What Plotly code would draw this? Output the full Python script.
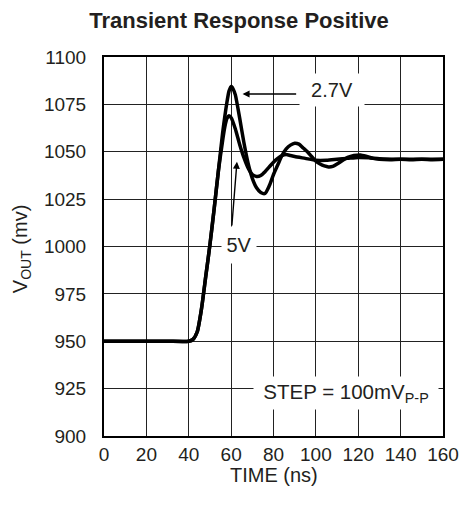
import plotly.graph_objects as go

# time axis (ns) and output voltage (mV)
t_27 = [0, 10, 20, 30, 40, 42, 44, 46, 48, 50, 52, 54, 56, 58, 59, 60, 61, 62, 64, 66,
        68, 70, 72, 74, 76, 78, 80, 82, 84, 86, 88, 90, 92, 94, 96, 98, 100, 102, 104,
        106, 108, 110, 112, 115, 118, 121, 124, 127, 130, 135, 140, 145, 150, 155, 160]
v_27 = [950, 950, 950, 950, 950, 951, 955, 967, 984, 1001, 1020, 1040, 1060, 1076, 1082,
        1084.5, 1083, 1080, 1068, 1055, 1044, 1036, 1031, 1028.5, 1028, 1032, 1038, 1043,
        1048, 1051.5, 1053.5, 1054.5, 1054, 1052, 1050, 1047.5, 1045, 1043.5, 1042.5, 1042,
        1042.3, 1043.5, 1045, 1047, 1048, 1048.3, 1047.5, 1046.5, 1046, 1045.8, 1046,
        1045.8, 1046, 1045.8, 1046]

t_5 = [0, 10, 20, 30, 40, 42, 44, 46, 48, 50, 52, 54, 56, 57, 58, 59, 60, 62, 64, 66, 68,
       70, 72, 74, 76, 78, 80, 82, 84, 86, 88, 90, 95, 100, 105, 110, 115, 120, 125, 130,
       140, 150, 160]
v_5 = [950, 950, 950, 950, 950, 951, 955, 967, 984, 1001, 1020, 1040, 1056, 1063, 1067.5,
       1069, 1068, 1062, 1054, 1047, 1041.5, 1038, 1037, 1037.5, 1039.5, 1042, 1044.5,
       1046.5, 1048, 1048.5, 1048, 1047.5, 1046.5, 1045.5, 1045.5, 1046, 1046.5, 1047,
       1046.8, 1046.3, 1046, 1046, 1046]

x_ticks = [0, 20, 40, 60, 80, 100, 120, 140, 160]
y_ticks = [900, 925, 950, 975, 1000, 1025, 1050, 1075, 1100]

FONT = "Liberation Sans, Arial, sans-serif"
INK = "#231f20"

fig = go.Figure()
for t, v, name in [(t_27, v_27, "2.7V"), (t_5, v_5, "5V")]:
    fig.add_trace(
        go.Scatter(
            x=t, y=v, mode="lines", name=name,
            line=dict(color="black", width=3.5, shape="spline", smoothing=0.6),
        )
    )

axis_common = dict(
    showgrid=True, gridcolor="#222222", gridwidth=1.2,
    showline=True, linecolor="black", linewidth=2, mirror=True,
    zeroline=False, ticks="", tickfont=dict(size=19, color=INK, family=FONT),
)

fig.update_layout(
    width=471, height=506,
    margin=dict(l=104, r=22, t=57, b=70),
    plot_bgcolor="white", paper_bgcolor="white",
    showlegend=False,
    font=dict(family=FONT, size=19, color=INK),
    title=dict(
        text="<b>Transient Response Positive</b>",
        x=239 / 471, xanchor="center", y=1 - 20 / 506, yanchor="middle",
        font=dict(size=22, family=FONT, color=INK),
    ),
    xaxis=dict(range=[0, 160], tickvals=x_ticks, ticklabelstandoff=0, **axis_common),
    yaxis=dict(range=[900, 1100], tickvals=y_ticks, ticklabelstandoff=12, **axis_common),
)

# axis titles
fig.add_annotation(text="TIME (ns)", xref="paper", yref="paper", x=0.5, y=-0.102,
                   xanchor="center", yanchor="middle", showarrow=False,
                   font=dict(size=20))
fig.add_annotation(text="V<sub>OUT</sub> (mv)", xref="paper", yref="paper",
                   x=-0.243, y=0.492, xanchor="center", yanchor="middle",
                   textangle=-90, showarrow=False, font=dict(size=20))

# curve labels
fig.add_annotation(x=65.4, y=1080.5, ax=91.4, ay=1080.5, axref="x", ayref="y",
                   text="", showarrow=True, arrowhead=2, arrowsize=1, arrowwidth=1.4,
                   arrowcolor="black")
fig.add_annotation(x=107.5, y=1082.5, text="2.7V", showarrow=False, bgcolor="white",
                   width=62, height=30, font=dict(size=20))
fig.add_annotation(x=62.75, y=1044.7, ax=60.3, ay=1010.3, axref="x", ayref="y",
                   text="", showarrow=True, arrowhead=2, arrowsize=1, arrowwidth=1.4,
                   arrowcolor="black")
fig.add_annotation(x=63.5, y=1001, text="5V", showarrow=False, bgcolor="white",
                   width=32, height=34, font=dict(size=20))
fig.add_annotation(x=114, y=922.5, text="STEP = 100mV<sub>P-P</sub>", showarrow=False,
                   bgcolor="white", width=182, height=30, font=dict(size=20.5))

# drop the browser's default body margin so the figure sits at the page corner
fig.write_html(
    "out.html",
    config={"displayModeBar": False},
    post_script="document.body.style.margin='0';",
)
